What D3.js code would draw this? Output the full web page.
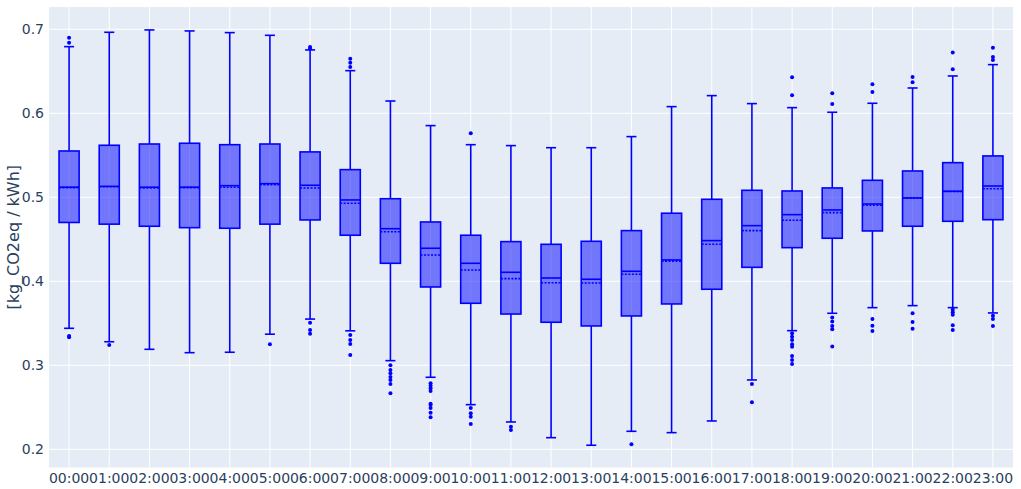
<!DOCTYPE html>
<html><head><meta charset="utf-8">
<script src="https://cdn.jsdelivr.net/npm/d3@7"></script>
<style>body{margin:0;background:#fff;}svg{display:block;font-family:"DejaVu Sans",Verdana,sans-serif;}</style>
</head><body><svg id="c" width="1021" height="489"></svg>
<script>
const categories = ["00:00","01:00","02:00","03:00","04:00","05:00","06:00","07:00","08:00","09:00","10:00","11:00","12:00","13:00","14:00","15:00","16:00","17:00","18:00","19:00","20:00","21:00","22:00","23:00"];
const lowerFence = [0.344,0.328,0.319,0.315,0.3155,0.337,0.355,0.341,0.3055,0.2857,0.2531,0.2325,0.2138,0.2048,0.2214,0.2198,0.2337,0.2825,0.3412,0.3619,0.3686,0.371,0.3686,0.3623];
const q1 = [0.470,0.468,0.4655,0.4638,0.4631,0.468,0.473,0.4548,0.4214,0.3932,0.3738,0.361,0.3512,0.3468,0.3587,0.373,0.3905,0.4166,0.440,0.4512,0.4599,0.4655,0.4714,0.4733];
const median = [0.512,0.513,0.512,0.512,0.5138,0.5162,0.5143,0.4968,0.4626,0.4393,0.4214,0.4107,0.4039,0.4024,0.4119,0.4254,0.4484,0.4662,0.4793,0.4849,0.492,0.4992,0.5071,0.5134];
const mean = [0.5115,0.5125,0.511,0.5115,0.512,0.515,0.511,0.4928,0.459,0.4313,0.4135,0.4031,0.3983,0.398,0.4083,0.424,0.444,0.4603,0.4726,0.4817,0.4905,0.499,0.507,0.5102];
const q3 = [0.5551,0.5619,0.5634,0.5643,0.5626,0.5634,0.554,0.5329,0.4983,0.4706,0.4548,0.4472,0.444,0.4476,0.4603,0.481,0.4976,0.5083,0.5075,0.5111,0.5202,0.5313,0.5412,0.5492];
const upperFence = [0.6793,0.6964,0.6992,0.698,0.696,0.6928,0.6754,0.6507,0.6146,0.5853,0.5626,0.5615,0.559,0.559,0.5722,0.6079,0.621,0.6115,0.6067,0.6012,0.6119,0.6301,0.6444,0.6579];
const outliers = [
  [0.690,0.684,0.3349,0.3335],
  [0.3242],
  [],
  [],
  [],
  [0.325],
  [0.679,0.677,0.3507,0.342,0.3376],
  [0.665,0.660,0.655,0.336,0.330,0.3254,0.3122],
  [0.300,0.2944,0.2905,0.286,0.2825,0.2778,0.2667],
  [0.2786,0.2756,0.2726,0.2694,0.2542,0.2527,0.249,0.2436,0.2381],
  [0.5762,0.249,0.243,0.2388,0.2301],
  [0.2269,0.223],
  [],
  [],
  [0.206],
  [],
  [],
  [0.2778,0.256],
  [0.6429,0.6214,0.338,0.334,0.330,0.325,0.322,0.311,0.3063,0.3016],
  [0.6238,0.611,0.357,0.352,0.3468,0.343,0.3222],
  [0.6345,0.6254,0.3551,0.347,0.3408],
  [0.6432,0.6369,0.362,0.3516,0.3436],
  [0.6722,0.6524,0.366,0.363,0.360,0.3475,0.342],
  [0.678,0.667,0.6634,0.359,0.355,0.3468]
];
const yTicks = [0.2,0.3,0.4,0.5,0.6,0.7];
const yTitle = "[kg_CO2eq / kWh]";

const L = 49, R = 1013, T = 7, B = 467.5;
const svg = d3.select("#c");
const x = d3.scaleBand().domain(categories).range([L, R]).padding(0);
const y = d3.scaleLinear().domain([0.1783, 0.7265]).range([B, T]);

svg.append("rect").attr("x", L).attr("y", T).attr("width", R - L).attr("height", B - T).attr("fill", "#E5ECF6");

// grid
const g = svg.append("g");
g.selectAll("line.h").data(yTicks).join("line")
  .attr("x1", L).attr("x2", R).attr("y1", d => y(d)).attr("y2", d => y(d))
  .attr("stroke", "#fff").attr("stroke-width", 1);
g.selectAll("line.v").data(categories).join("line")
  .attr("y1", T).attr("y2", B).attr("x1", d => x(d) + x.bandwidth() / 2).attr("x2", d => x(d) + x.bandwidth() / 2)
  .attr("stroke", "#fff").attr("stroke-width", 1);

// axes
const ya = svg.append("g").attr("transform", `translate(${L},0)`)
  .call(d3.axisLeft(y).tickValues(yTicks).tickSize(0).tickPadding(5).tickFormat(d3.format(".1f")));
ya.select(".domain").remove();
ya.selectAll("text").attr("font-size", 14).attr("fill", "#2a3f5f").attr("font-family", "DejaVu Sans, Verdana, sans-serif");

const xa = svg.append("g").attr("transform", `translate(0,${B})`)
  .call(d3.axisBottom(x).tickSize(0).tickPadding(6));
xa.select(".domain").remove();
xa.selectAll("text").attr("font-size", 14).attr("fill", "#2a3f5f").attr("font-family", "DejaVu Sans, Verdana, sans-serif");

svg.append("text").attr("transform", `translate(19,${(T + B) / 2}) rotate(-90)`)
  .attr("text-anchor", "middle").attr("font-size", 16).attr("fill", "#2a3f5f").text(yTitle);

// boxes
const bw = x.bandwidth() * 0.5, ww = bw * 0.5;
const color = "#0000ff";
const boxes = svg.append("g");
categories.forEach((c, i) => {
  const cx = x(c) + x.bandwidth() / 2;
  const gg = boxes.append("g");
  gg.append("line").attr("x1", cx).attr("x2", cx).attr("y1", y(q3[i])).attr("y2", y(upperFence[i])).attr("stroke", color).attr("stroke-width", 1.6);
  gg.append("line").attr("x1", cx).attr("x2", cx).attr("y1", y(q1[i])).attr("y2", y(lowerFence[i])).attr("stroke", color).attr("stroke-width", 1.6);
  [upperFence[i], lowerFence[i]].forEach(v => gg.append("line").attr("x1", cx - ww / 2).attr("x2", cx + ww / 2).attr("y1", y(v)).attr("y2", y(v)).attr("stroke", color).attr("stroke-width", 1.6));
  gg.append("rect").attr("x", cx - bw / 2).attr("width", bw).attr("y", y(q3[i])).attr("height", y(q1[i]) - y(q3[i]))
    .attr("fill", "rgba(0,0,255,0.5)").attr("stroke", color).attr("stroke-width", 1.6);
  gg.append("line").attr("x1", cx - bw / 2).attr("x2", cx + bw / 2).attr("y1", y(median[i])).attr("y2", y(median[i])).attr("stroke", color).attr("stroke-width", 1.6);
  gg.append("line").attr("x1", cx - bw / 2).attr("x2", cx + bw / 2).attr("y1", y(mean[i])).attr("y2", y(mean[i])).attr("stroke", color).attr("stroke-width", 1.6).attr("stroke-dasharray", "2,1.5");
  gg.selectAll("circle").data(outliers[i]).join("circle").attr("cx", cx).attr("cy", d => y(d)).attr("r", 2).attr("fill", color);
});
</script>
</body></html>
